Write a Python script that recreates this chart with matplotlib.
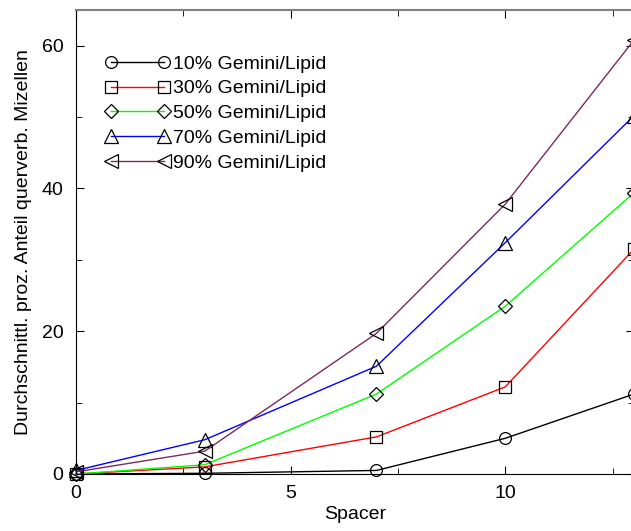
import matplotlib
matplotlib.use("Agg")
import matplotlib.pyplot as plt
from matplotlib.ticker import MultipleLocator

plt.rcParams['font.family'] = ['Liberation Sans', 'DejaVu Sans']

spacer = [0, 3, 7, 10, 13]
labels = ["10% Gemini/Lipid", "30% Gemini/Lipid", "50% Gemini/Lipid",
          "70% Gemini/Lipid", "90% Gemini/Lipid"]
g10 = [0.0, 0.1, 0.5, 5.0, 11.2]
g30 = [0.0, 1.0, 5.2, 12.2, 31.5]
g50 = [0.0, 1.3, 11.2, 23.5, 39.4]
g70 = [0.5, 4.8, 15.1, 32.4, 50.2]
g90 = [0.3, 3.2, 19.7, 37.8, 60.8]
series = [g10, g30, g50, g70, g90]
colors = ["black", "#ff0000", "#00ff00", "#0000ff", "#7a2a60"]
markers = ["o", "s", "D", "^", "<"]
msizes = [8.5, 8, 7.5, 10, 10]

fig = plt.figure(figsize=(6.31, 5.31), dpi=100)
ax = fig.add_axes([76/631, 57/531, 558/631, 464/531])

for ys, c, m, ms, lab in zip(series, colors, markers, msizes, labels):
    ax.plot(spacer, ys, color=c, lw=1.0, marker=m, ms=ms, mfc='none',
            mec='black', mew=0.9, label=lab, clip_on=False)

ax.set_xlim(0, 13)
ax.set_ylim(0, 65)
ax.xaxis.set_major_locator(MultipleLocator(5))
ax.xaxis.set_minor_locator(MultipleLocator(2.5))
ax.yaxis.set_major_locator(MultipleLocator(20))
ax.yaxis.set_minor_locator(MultipleLocator(10))
ax.tick_params(which='both', direction='in', top=True, right=True,
               labelsize=14)
ax.tick_params(axis='y', pad=9)
ax.tick_params(axis='x', pad=8)
ax.tick_params(which='major', length=6)
ax.tick_params(which='minor', length=4)
ax.spines['top'].set_color('#808080')
ax.spines['top'].set_linewidth(1.5)

ax.set_xlabel("Spacer", fontsize=14, labelpad=3)
ax.set_ylabel("Durchschnittl. proz. Anteil querverb. Mizellen", fontsize=14,
              labelpad=7)

leg = ax.legend(loc='upper left', bbox_to_anchor=(0.0376, 0.920), frameon=False,
                numpoints=2, handlelength=3.35, fontsize=14, labelspacing=0.37,
                handletextpad=0.15, borderaxespad=0)

fig.savefig("out.png", dpi=100)
